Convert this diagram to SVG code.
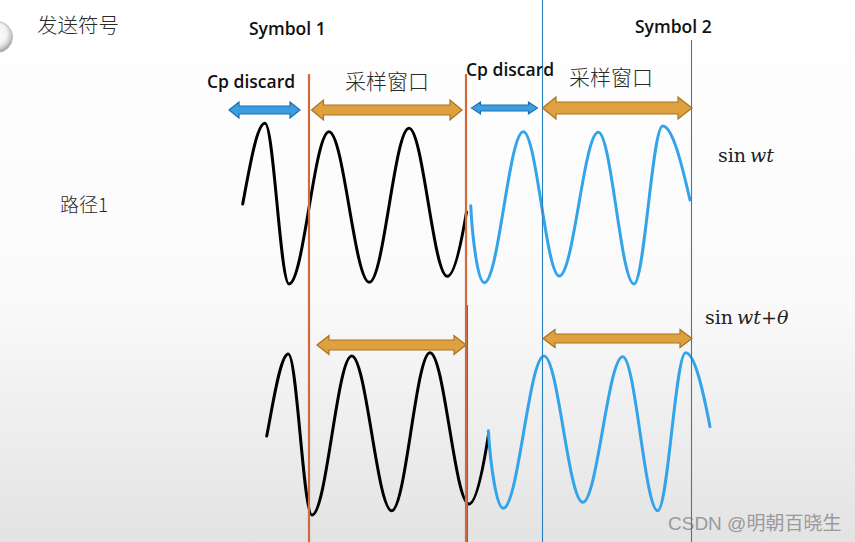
<svg xmlns="http://www.w3.org/2000/svg" width="855" height="542" viewBox="0 0 855 542">
<defs>
<linearGradient id="bg" x1="0" y1="0" x2="0" y2="1">
<stop offset="0" stop-color="#ffffff"/>
<stop offset="0.55" stop-color="#fafafa"/>
<stop offset="1" stop-color="#e3e3e3"/>
</linearGradient>
<radialGradient id="ball" cx="0.45" cy="0.4" r="0.6">
<stop offset="0" stop-color="#ffffff"/>
<stop offset="0.6" stop-color="#f2f2f2"/>
<stop offset="0.85" stop-color="#c8c8c8"/>
<stop offset="1" stop-color="#9a9a9a"/>
</radialGradient>
</defs>
<style>
.cn{font-family:"Noto Sans CJK SC",sans-serif;font-weight:300;fill:#2a2a2a}
.en{font-family:"Open Sans","Noto Sans",sans-serif;font-weight:600;fill:#111}
.math{font-family:"DejaVu Serif","Liberation Serif",serif;fill:#222}
.wb{fill:none;stroke:#000;stroke-width:3;stroke-linecap:round;stroke-linejoin:round}
.wl{fill:none;stroke:#33a3ea;stroke-width:3;stroke-linecap:round;stroke-linejoin:round}
.vo{stroke:#d2693a;stroke-width:2.2}
.vb{stroke:#2a7ec2;stroke-width:1.1}
.ao{fill:#dfa040;stroke:#a87420;stroke-width:1.2}
.ab{fill:#3a9ee0;stroke:#1f6fb0;stroke-width:1.2}
</style>
<rect width="855" height="542" fill="url(#bg)"/>
<circle cx="-3" cy="37" r="15.5" fill="url(#ball)" stroke="#bdbdbd" stroke-width="1"/>

<g id="labels">
<text class="cn" x="37" y="33" font-size="20.5">发送符号</text>
<text class="en" x="249" y="35" font-size="17.5">Symbol 1</text>
<text class="en" x="635" y="33" font-size="17.5">Symbol 2</text>
<text class="en" x="207" y="88" font-size="17.5">Cp discard</text>
<text class="en" x="466" y="76" font-size="17.5">Cp discard</text>
<text class="cn" x="345" y="89" font-size="21">采样窗口</text>
<text class="cn" x="569" y="85" font-size="21">采样窗口</text>
<text class="cn" x="60" y="212" font-size="19">路径1</text>
<text class="math" x="718" y="162" font-size="19">sin<tspan font-style="italic" dx="4">wt</tspan></text>
<text class="math" x="705" y="324" font-size="19">sin<tspan font-style="italic" dx="4">wt</tspan>+<tspan font-style="italic">θ</tspan></text>
<text x="668" y="530" font-size="19" font-family="Liberation Sans, Noto Sans CJK SC, sans-serif" fill="#9a9a9a">CSDN @明朝百晓生</text>
</g>

<g id="waves">
<path id="wave-top-black" class="wb" d="M242.7,204 C250,165 257,123.3 265,123.3 C273.7,123.3 280.3,284 289,284 C303.5,284 314.5,131.7 329,131.7 C343.6,131.7 354.7,282.3 369.3,282.3 C383.7,282.3 394.6,128.3 409,128.3 C422.9,128.3 433.4,276.3 447.3,276.3 C454,276.3 461,245 466.5,212"/>
<path id="wave-top-blue" class="wl" d="M470.7,205.7 C472.5,240 478,282.7 484.3,282.7 C498.5,282.7 509.1,131.7 523.3,131.7 C536.4,131.7 546.2,276 559.3,276 C573.5,276 584.1,132.3 598.3,132.3 C611.3,132.3 621,284 634,284 C644.4,284 652.3,126 662.7,126 C672.5,126 682,165 690,200"/>
<path id="wave-bottom-black" class="wb" d="M266.7,436 C272,410 280,354 288.3,354 C296.9,354 303.4,515 312,515 C326.4,515 337.3,356 351.7,356 C366.2,356 377.2,510.7 391.7,510.7 C405.6,510.7 416.1,352.7 430,352.7 C444.2,352.7 454.8,504 469,504 C476,504 483,470 488.7,433.3"/>
<path id="wave-bottom-blue" class="wl" d="M488.3,430.7 C490.5,465 496.5,508.3 503.3,508.3 C518.1,508.3 529.2,356 544,356 C558,356 568.7,502.3 582.7,502.3 C597.2,502.3 608.2,356.7 622.7,356.7 C635.4,356.7 645,510.7 657.7,510.7 C667.9,510.7 675.5,352.7 685.7,352.7 C694.5,352.7 703,390 710,426.7"/>
</g>

<g id="connectors">
<line class="vo" x1="309" y1="74" x2="309" y2="542"/>
<line class="vo" x1="466" y1="74" x2="466" y2="542"/>
<line class="vb" x1="467.5" y1="305" x2="467.5" y2="542"/>
<line class="vb" x1="542.5" y1="0" x2="542.5" y2="542"/>
<line class="vb" x1="691.5" y1="40" x2="691.5" y2="542"/>
<polygon id="arrow-cp1" class="ab" points="229,110 239,102 239,106 290,106 290,102 300,110 290,118 290,114 239,114 239,118"/>
<polygon id="arrow-win1" class="ao" points="311.5,110 323.5,100 323.5,105 450,105 450,100 462,110 450,120 450,115 323.5,115 323.5,120"/>
<polygon id="arrow-cp2" class="ab" points="471.5,108 480.5,102 480.5,105 528.5,105 528.5,102 537.5,108 528.5,114 528.5,111 480.5,111 480.5,114"/>
<polygon id="arrow-win2" class="ao" points="542.5,108 556,97 556,102 678,102 678,97 692,108 678,119 678,114 556,114 556,119"/>
<polygon id="arrow-win3" class="ao" points="317,345 329,335.5 329,340 454,340 454,335.5 466,345 454,354.5 454,350 329,350 329,354.5"/>
<polygon id="arrow-win4" class="ao" points="543,338.5 555,329.5 555,334 680,334 680,329.5 692,338.5 680,347.5 680,343 555,343 555,347.5"/>
</g>
</svg>
